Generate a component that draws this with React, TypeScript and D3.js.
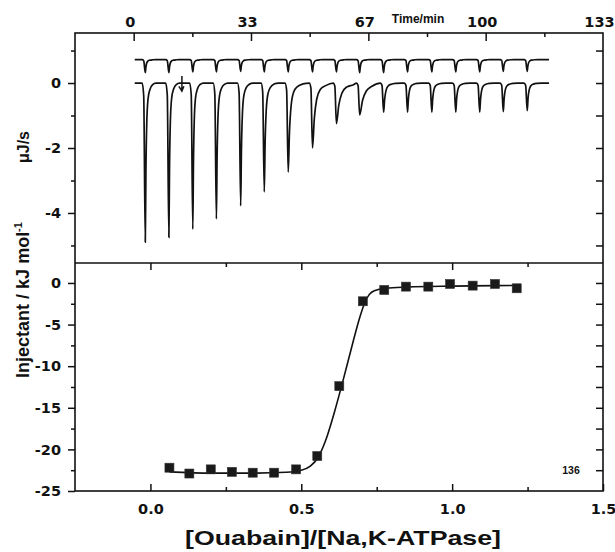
import React, { useRef, useEffect } from 'react';
import * as d3 from 'd3';

// ---- top panel: raw thermogram (time in min, power in uJ/s)
const injTimes = [3.3, 10.0, 16.8, 23.5, 30.4, 37.1, 43.9, 50.8, 57.6, 64.2, 71.0, 77.8, 84.7, 91.5, 98.3, 105.0, 111.8];
const peakDepths = [-4.9, -4.75, -4.5, -4.18, -3.78, -3.35, -2.74, -2.0, -1.25, -0.98, -0.9, -0.9, -0.9, -0.9, -0.9, -0.88, -0.85];
const peakTails = [0.6, 0.6, 0.6, 0.65, 0.7, 0.8, 1.2, 1.7, 2.2, 2.7, 1.0, 0.8, 0.8, 0.8, 0.8, 0.8, 0.8];
const refDepths = [-0.4, -0.4, -0.38, -0.38, -0.36, -0.38, -0.38, -0.38, -0.38, -0.4, -0.4, -0.38, -0.38, -0.38, -0.38, -0.36, -0.36];
const refTails = [0.6, 0.6, 0.6, 0.6, 0.6, 0.6, 0.6, 0.6, 0.6, 0.6, 0.6, 0.6, 0.6, 0.6, 0.6, 0.6, 0.6];
const mainBase = 0;
const refBase = 0.72;
const traceStart = 0.3;
const traceEnd = 118;
// peak outline: [min offset, fraction of depth]
const dropProfile = [[-0.9, 0], [-0.45, 0.08], [0, 1]];
const riseProfile = [[0.3, 0.55], [0.7, 0.25], [1.3, 0.1], [2.2, 0.04], [3.5, 0.01], [5, 0]];
const markTime = 13.7;

const timeMajor = [0, 33.33, 66.67, 100];
const timeMinor = [16.67, 50, 83.33, 116.67];
const timeLabels = ['0', '33', '67', '100', '133'];
const timeLabelVals = [0, 33.33, 66.67, 100, 133.33];
const powerMajor = [0, -2, -4];
const powerMinor = [1, -1, -3, -5];
const powerRight = [1, 0, -1, -2, -3, -4, -5];

// ---- bottom panel: integrated heats
const ratio = [0.063, 0.129, 0.2, 0.27, 0.339, 0.41, 0.483, 0.553, 0.626, 0.704, 0.775, 0.847, 0.921, 0.993, 1.068, 1.142, 1.214];
const heat = [-22.2, -22.9, -22.4, -22.7, -22.8, -22.8, -22.4, -20.8, -12.4, -2.2, -0.84, -0.44, -0.44, -0.12, -0.32, -0.12, -0.64];
const fitX = [0.063, 0.2, 0.35, 0.45, 0.5, 0.53, 0.555, 0.58, 0.61, 0.64, 0.67, 0.695, 0.71, 0.725, 0.745, 0.78, 0.85, 1.0, 1.214];
const fitY = [-22.7, -22.85, -22.85, -22.75, -22.5, -22.0, -21.0, -19.0, -15.5, -11.5, -7.3, -4.0, -2.4, -1.4, -0.9, -0.65, -0.5, -0.38, -0.3];

const ratioMajor = [0, 0.5, 1.0, 1.5];
const ratioMinor = [0.25, 0.75, 1.25];
const heatMajor = [0, -5, -10, -15, -20, -25];
const heatMinor = [-2.5, -7.5, -12.5, -17.5, -22.5];
const heatRight = [0, -2.5, -5, -7.5, -10, -12.5, -15, -17.5, -20, -22.5];

const FONT = 'Liberation Sans, Arial, sans-serif';
const TICK_FONT = 'DejaVu Sans, Verdana, sans-serif';

function tracePoints(base: number, depths: number[], tails: number[]) {
  const pts: [number, number][] = [[traceStart, base]];
  injTimes.forEach((t0, i) => {
    const stop = i < injTimes.length - 1 ? injTimes[i + 1] + dropProfile[0][0] : traceEnd;
    dropProfile.forEach(([dt, f]) => pts.push([t0 + dt, base + f * depths[i]]));
    riseProfile.forEach(([dt, f]) => {
      const t = t0 + dt * tails[i];
      if (t < stop) pts.push([t, base + f * depths[i]]);
    });
  });
  pts.push([traceEnd, base]);
  return pts;
}

const App = () => {
  const svgRef = useRef<SVGSVGElement>(null);

  useEffect(() => {
    const svg = d3.select(svgRef.current);
    svg.selectAll('*').remove();

    const L = 75, R = 603, T = 33, MID = 263, B = 491;

    const xTime = d3.scaleLinear().domain([-16.67, 133.33]).range([L, R]);
    const yTop = d3.scaleLinear().domain([-5.54, 1.54]).range([MID, T]);
    const xRatio = d3.scaleLinear().domain([-0.25, 1.5]).range([L, R]);
    const yBot = d3.scaleLinear().domain([-25, 2.4]).range([B, MID]);

    const addAxis = (axis: any, tr: string) => {
      const g = svg.append('g').attr('transform', tr).call(axis);
      g.select('.domain').remove();
      g.selectAll('line').attr('stroke', '#111').attr('stroke-width', 1.5);
      g.attr('font-family', TICK_FONT).attr('font-size', 14.5).attr('font-weight', 'bold');
      g.selectAll('text').attr('fill', '#111');
      return g;
    };
    const none = () => '';

    // top panel axes
    const topAx = addAxis(d3.axisTop(xTime).tickValues(timeLabelVals).tickSize(0).tickPadding(6)
      .tickFormat((d: any, i: number) => timeLabels[i]), `translate(0,${T})`);
    topAx.selectAll('text').attr('dx', -4);
    addAxis(d3.axisTop(xTime).tickValues(timeMajor).tickSize(-8).tickFormat(none), `translate(0,${T})`);
    addAxis(d3.axisTop(xTime).tickValues(timeMinor).tickSize(-4).tickFormat(none), `translate(0,${T})`);
    addAxis(d3.axisLeft(yTop).tickValues(powerMajor).tickSize(7).tickPadding(7)
      .tickFormat((d: any) => String(d)), `translate(${L},0)`);
    addAxis(d3.axisLeft(yTop).tickValues(powerMinor).tickSize(4).tickFormat(none), `translate(${L},0)`);
    addAxis(d3.axisRight(yTop).tickValues(powerRight).tickSize(-7).tickFormat(none), `translate(${R},0)`);

    // bottom panel axes
    addAxis(d3.axisBottom(xRatio).tickValues(ratioMajor).tickSize(-7).tickPadding(13)
      .tickFormat(d3.format('.1f')), `translate(0,${B})`);
    addAxis(d3.axisBottom(xRatio).tickValues(ratioMinor).tickSize(-4).tickFormat(none), `translate(0,${B})`);
    addAxis(d3.axisBottom(xRatio).tickValues(ratioMajor.slice(0, 3)).tickSize(7).tickFormat(none), `translate(0,${MID})`);
    addAxis(d3.axisBottom(xRatio).tickValues(ratioMinor).tickSize(4).tickFormat(none), `translate(0,${MID})`);
    addAxis(d3.axisLeft(yBot).tickValues(heatMajor).tickSize(7).tickPadding(7)
      .tickFormat((d: any) => String(d)), `translate(${L},0)`);
    addAxis(d3.axisLeft(yBot).tickValues(heatMinor).tickSize(4).tickFormat(none), `translate(${L},0)`);
    addAxis(d3.axisRight(yBot).tickValues(heatRight).tickSize(-7).tickFormat(none), `translate(${R},0)`);

    // frames
    svg.append('rect').attr('x', L).attr('y', T).attr('width', R - L).attr('height', B - T)
      .attr('fill', 'none').attr('stroke', '#111').attr('stroke-width', 1.6);
    svg.append('line').attr('x1', L).attr('x2', R).attr('y1', MID).attr('y2', MID)
      .attr('stroke', '#111').attr('stroke-width', 1.6);

    // thermogram traces
    const trace = d3.line<[number, number]>()
      .x(d => xTime(d[0])).y(d => yTop(d[1])).curve(d3.curveMonotoneX);
    svg.append('path').attr('d', trace(tracePoints(refBase, refDepths, refTails)))
      .attr('fill', 'none').attr('stroke', '#111').attr('stroke-width', 1.7);
    svg.append('path').attr('d', trace(tracePoints(mainBase, peakDepths, peakTails)))
      .attr('fill', 'none').attr('stroke', '#111').attr('stroke-width', 1.7);

    // small arrow mark on the second injection
    const mx = xTime(markTime);
    svg.append('path')
      .attr('d', `M${mx},${yTop(0.22)}V${yTop(-0.25)}M${mx - 3},${yTop(-0.1)}L${mx},${yTop(-0.25)}L${mx + 2},${yTop(-0.1)}`)
      .attr('fill', 'none').attr('stroke', '#111').attr('stroke-width', 1.5);

    // fit curve and points
    const fitLine = d3.line<number>()
      .x((d, i) => xRatio(fitX[i])).y(d => yBot(d)).curve(d3.curveMonotoneX);
    svg.append('path').attr('d', fitLine(fitY))
      .attr('fill', 'none').attr('stroke', '#111').attr('stroke-width', 1.6);
    svg.append('g').selectAll('rect').data(heat).enter().append('rect')
      .attr('x', (d, i) => xRatio(ratio[i]) - 4.5)
      .attr('y', d => yBot(d) - 4.5)
      .attr('width', 9).attr('height', 9)
      .attr('fill', '#1a1a1a').attr('stroke', '#333').attr('stroke-width', 0.6);

    // labels
    const label = (txt: string, x: number, y: number, size: number, rot = 0) =>
      svg.append('text').attr('x', x).attr('y', y)
        .attr('transform', rot ? `rotate(${rot},${x},${y})` : null)
        .attr('text-anchor', 'middle').attr('font-family', FONT)
        .attr('font-weight', 'bold').attr('font-size', size).attr('fill', '#111').text(txt);

    label('Time/min', 418, 23, 12);
    label('136', 571, 474, 10.5);
    label('μJ/s', 29, 147, 16, -90);
    const inj = label('Injectant / kJ mol', 29, 300, 18, -90);
    inj.append('tspan').attr('dy', -7).attr('font-size', 11).text('-1');
    label('[Ouabain]/[Na,K-ATPase]', 343, 545, 21)
      .attr('textLength', 316).attr('lengthAdjust', 'spacingAndGlyphs');
  }, []);

  return (
    <svg ref={svgRef} width={615} height={552}
      style={{ position: 'absolute', left: 0, top: 0, background: '#fff' }} />
  );
};

export default App;
